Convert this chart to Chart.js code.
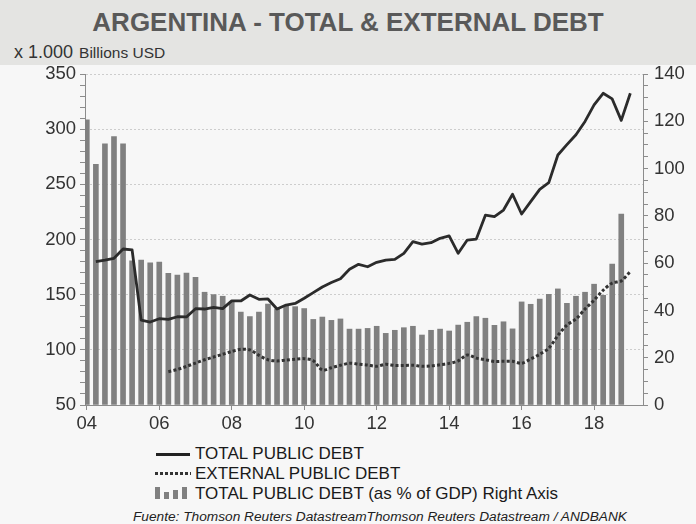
<!DOCTYPE html>
<html>
<head>
<meta charset="utf-8">
<script src="https://cdn.jsdelivr.net/npm/chart.js@4.4.1/dist/chart.umd.min.js"></script>
<style>
  html, body { margin: 0; padding: 0; }
  body {
    width: 696px; height: 524px; position: relative; overflow: hidden;
    background: #f7f7f7; font-family: "Liberation Sans", Arial, sans-serif;
  }
  #band { position: absolute; left: 0; top: 0; width: 696px; height: 65px; background: #e4e4e2; }
  #title {
    position: absolute; left: 0; top: 7px; width: 696px; text-align: center;
    font-size: 26px; font-weight: bold; color: #595959;
  }
  #unit { position: absolute; left: 14px; top: 42px; font-size: 18px; color: #333; white-space: nowrap; }
  #unit span { font-size: 15.5px; margin-left: 6px; }
  #wrap { position: absolute; left: 0; top: 0; }
  .leg-text { position: absolute; left: 195px; font-size: 17px; line-height: 18px; color: #1a1a1a; white-space: nowrap; }
  .leg-solid { position: absolute; left: 156px; width: 34px; height: 3px; background: #222; }
  .leg-dot {
    position: absolute; left: 155px; width: 36px; height: 3px;
    background: repeating-linear-gradient(90deg, #333 0 3px, transparent 3px 5px);
  }
  .leg-bar { position: absolute; width: 5px; background: #808080; }
  #source {
    position: absolute; left: 133px; top: 509px; font-size: 13.7px; font-style: italic;
    color: #222; white-space: nowrap;
  }
</style>
</head>
<body>
<div id="band"></div>
<div id="title">ARGENTINA - TOTAL &amp; EXTERNAL DEBT</div>
<div id="unit">x 1.000<span>Billions USD</span></div>
<div id="wrap"><canvas id="debtChart" width="696" height="440"></canvas></div>

<div class="leg-solid" style="top:453px"></div>
<div class="leg-text" style="top:445px">TOTAL PUBLIC DEBT</div>
<div class="leg-dot" style="top:472px"></div>
<div class="leg-text" style="top:465px">EXTERNAL PUBLIC DEBT</div>
<div class="leg-bar" style="left:155px; top:487px; height:12px"></div>
<div class="leg-bar" style="left:164px; top:492px; height:7px"></div>
<div class="leg-bar" style="left:173px; top:490px; height:9px"></div>
<div class="leg-bar" style="left:182px; top:487px; height:12px"></div>
<div class="leg-text" style="top:485px">TOTAL PUBLIC DEBT (as % of GDP) Right Axis</div>
<div id="source">Fuente: Thomson Reuters DatastreamThomson Reuters Datastream / ANDBANK</div>

<script>
// quarters 2004Q1 .. 2019Q1, the x position of a point is its index here
const quarters = [];
for (let y = 2004; y <= 2019; y++) {
    for (let q = 1; q <= 4; q++) {
        if (y === 2019 && q > 1) break;
        quarters.push(y + 'Q' + q);
    }
}

// year labels on the x axis (first quarter of even years)
const yearLabels = ['04', '06', '08', '10', '12', '14', '16', '18'];

// total public debt as % of GDP (right axis), 2004Q1 .. 2018Q4
const debtPctGdp = [
    120.6, 101.8, 110.5, 113.5, 110.5, 61.0, 61.3, 60.1, 60.5, 55.7,
    55.0, 55.8, 54.0, 47.7, 46.7, 46.0, 43.7, 39.3, 37.4, 39.3,
    42.7, 40.6, 41.8, 41.6, 40.8, 36.2, 37.2, 35.8, 36.4, 32.1,
    32.1, 32.4, 33.3, 30.3, 31.6, 32.7, 33.3, 29.6, 31.6, 32.1,
    31.3, 33.8, 35.0, 37.4, 36.7, 33.7, 35.2, 32.2, 43.6, 42.6,
    44.8, 46.8, 49.1, 43.0, 46.0, 47.7, 51.1, 46.4, 59.6, 80.7
];

// total public debt, billions USD (left axis), 2004Q2 .. 2019Q1
const totalDebt = [
    180, 181.4, 183, 191.4, 190.5, 127, 125.2, 128.2, 127.6, 130,
    129.8, 137.3, 137, 138.5, 137.3, 144.4, 144.3, 149.7, 145.8, 146.1,
    137, 140.6, 142, 146.7, 151.8, 157, 161, 164.5, 173, 177.5,
    175.3, 179.3, 181.4, 182, 187.5, 198, 195.9, 197.1, 201.1, 203.2,
    187.5, 199.5, 200.4, 222, 220.7, 226.7, 241, 223.1, 234.3, 245.5,
    251.5, 276.6, 286, 295, 307, 322, 332.5, 327.4, 308, 332.5
];

// external public debt, billions USD (left axis), 2006Q2 .. 2019Q1
const externalDebt = [
    80.2, 82.2, 85, 88, 91, 93.5, 96, 98.5, 100.5, 100,
    95, 91, 89.9, 90.8, 91.5, 92, 90.2, 81.7, 83.8, 86,
    87.8, 87, 86.2, 85.1, 86.9, 85.8, 85.8, 86, 85.1, 85.4,
    86.5, 87.7, 90, 95.3, 92.5, 91, 89.5, 89.6, 89.6, 87.8,
    91.7, 96, 101.5, 113, 122.5, 128, 137, 145, 154, 160.5,
    162.5, 171
];

const barStart = quarters.indexOf('2004Q1');
const totalStart = quarters.indexOf('2004Q2');
const externalStart = quarters.indexOf('2006Q2');
const yearTicks = yearLabels.map(l => quarters.indexOf('20' + l + 'Q1'));

const toPoints = (arr, start) => arr.map((v, i) => ({ x: start + i, y: v }));

const axisGray = '#8c8c8c';
const tickFont = { size: 18.5, family: 'Liberation Sans' };

new Chart(document.getElementById('debtChart').getContext('2d'), {
    type: 'line',
    data: {
        datasets: [
            {
                label: 'TOTAL PUBLIC DEBT',
                data: toPoints(totalDebt, totalStart),
                yAxisID: 'y',
                borderColor: '#2b2b2b',
                borderWidth: 2.8,
                borderJoinStyle: 'round',
                pointRadius: 0,
                tension: 0,
                order: 1
            },
            {
                label: 'EXTERNAL PUBLIC DEBT',
                data: toPoints(externalDebt, externalStart),
                yAxisID: 'y',
                borderColor: '#333333',
                borderWidth: 3,
                borderDash: [3, 2.2],
                pointRadius: 0,
                tension: 0.3,
                order: 2
            },
            {
                type: 'bar',
                label: 'TOTAL PUBLIC DEBT (as % of GDP) Right Axis',
                data: toPoints(debtPctGdp, barStart),
                yAxisID: 'y1',
                backgroundColor: '#808080',
                barThickness: 5,
                order: 3
            }
        ]
    },
    options: {
        responsive: false,
        animation: false,
        layout: { padding: { top: 74, left: 0, right: 0, bottom: 0 } },
        plugins: {
            legend: { display: false },
            tooltip: { enabled: false }
        },
        scales: {
            x: {
                type: 'linear',
                min: -0.2,
                max: 61.4,
                offset: false,
                afterBuildTicks: s => { s.ticks = yearTicks.map(v => ({ value: v })); },
                afterFit: s => { s.height = 35; },
                ticks: {
                    autoSkip: false,
                    maxRotation: 0,
                    padding: 3,
                    color: '#333',
                    font: tickFont,
                    callback: v => yearLabels[yearTicks.indexOf(v)]
                },
                grid: { drawOnChartArea: false, offset: false, tickLength: 5, tickColor: axisGray },
                border: { color: axisGray }
            },
            y: {
                position: 'left',
                min: 50,
                max: 350,
                afterFit: s => { s.width = 85; },
                ticks: {
                    stepSize: 10,
                    autoSkip: false,
                    padding: 4,
                    color: '#333',
                    font: tickFont,
                    callback: v => (v % 50 === 0 ? v : '')
                },
                grid: {
                    color: c => (c.tick && c.tick.value % 50 === 0 ? '#cdcdcd' : 'rgba(0,0,0,0)'),
                    tickColor: axisGray,
                    tickLength: 5
                },
                border: { color: axisGray, dash: [2, 2] }
            },
            y1: {
                position: 'right',
                min: 0,
                max: 140,
                afterFit: s => { s.width = 53; },
                ticks: {
                    stepSize: 5,
                    autoSkip: false,
                    padding: 6,
                    color: '#333',
                    font: tickFont,
                    callback: v => (v % 20 === 0 ? v : '')
                },
                grid: { drawOnChartArea: false, tickColor: axisGray, tickLength: 5 },
                border: { color: axisGray }
            }
        }
    }
});
</script>
</body>
</html>
